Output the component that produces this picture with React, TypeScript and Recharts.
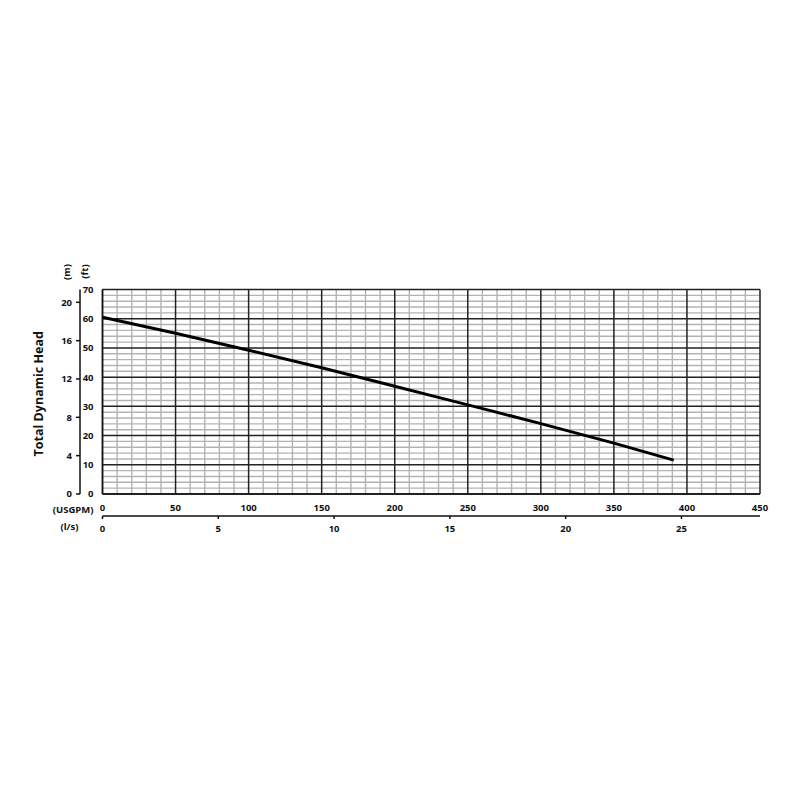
import { Line, LineChart, ReferenceLine, XAxis, YAxis } from "recharts";

// pump curve
const usgpm = [0, 50, 100, 150, 200, 250, 300, 350, 391];
const headFt = [60.5, 55, 49.2, 43.2, 36.9, 30.5, 24.1, 17.4, 11.6];

const gpmTicks = [0, 50, 100, 150, 200, 250, 300, 350, 400, 450];
const lpsTicks = [0, 5, 10, 15, 20, 25];
const ftTicks = [0, 10, 20, 30, 40, 50, 60, 70];
const mTicks = [0, 4, 8, 12, 16, 20];

const gpmMinor = [
  10, 20, 30, 40, 60, 70, 80, 90, 110, 120, 130, 140, 160, 170, 180, 190, 210,
  220, 230, 240, 260, 270, 280, 290, 310, 320, 330, 340, 360, 370, 380, 390,
  410, 420, 430, 440,
];
const ftMinor = [
  2, 4, 6, 8, 12, 14, 16, 18, 22, 24, 26, 28, 32, 34, 36, 38, 42, 44, 46, 48,
  52, 54, 56, 58, 62, 64, 66, 68,
];

const GPM_MAX = 450;
const FT_MAX = 70;
const LPS_PER_GPM = 0.06309;
const FT_PER_M = 3.2808;

const data = usgpm.map((g, i) => ({
  gpm: g,
  lps: g * LPS_PER_GPM,
  ft: headFt[i],
  m: headFt[i] / FT_PER_M,
}));

const font = "'Open Sans', sans-serif";
const tickStyle = { fontSize: 9.5, fontWeight: 700, fill: "#111", fontFamily: font };
const labelStyle = { fontSize: 9.5, fontWeight: 700, fill: "#111", fontFamily: font };

function vbOf(p: any) {
  return p && p.viewBox ? p.viewBox : { x: 0, y: 0, width: 0, height: 0 };
}

export default function App() {
  return (
    <div
      style={{
        position: "absolute",
        left: 0,
        top: 0,
        width: 800,
        height: 800,
        background: "#fff",
      }}
    >
      <LineChart
        width={800}
        height={800}
        data={data}
        margin={{ top: 289.5, right: 40, bottom: 258, left: 0 }}
      >
        <XAxis
          xAxisId="gpm"
          dataKey="gpm"
          type="number"
          domain={[0, GPM_MAX]}
          ticks={gpmTicks}
          allowDataOverflow
          height={22}
          tickSize={0}
          tickMargin={10}
          tickLine={false}
          axisLine={{ stroke: "#111", strokeWidth: 1.5 }}
          tick={tickStyle}
          label={(p: any) => {
            const vb = vbOf(p);
            return (
              <text x={vb.x - 9} y={vb.y + 15} textAnchor="end" dominantBaseline="central" style={labelStyle}>
                (USGPM)
              </text>
            );
          }}
        />
        <XAxis
          xAxisId="lps"
          dataKey="lps"
          type="number"
          domain={[0, GPM_MAX * LPS_PER_GPM]}
          ticks={lpsTicks}
          allowDataOverflow
          height={26}
          tickSize={3}
          tickMargin={6}
          tickLine={{ stroke: "#111", strokeWidth: 1.5 }}
          axisLine={{ stroke: "#111", strokeWidth: 1.5 }}
          tick={tickStyle}
          label={(p: any) => {
            const vb = vbOf(p);
            return (
              <text x={vb.x - 33} y={vb.y + 10} textAnchor="middle" dominantBaseline="central" style={labelStyle}>
                (l/s)
              </text>
            );
          }}
        />
        <YAxis
          yAxisId="ft"
          dataKey="ft"
          type="number"
          domain={[0, FT_MAX]}
          ticks={ftTicks}
          allowDataOverflow
          width={22.5}
          tickSize={0}
          tickMargin={9}
          tickLine={false}
          axisLine={{ stroke: "#111", strokeWidth: 1.5 }}
          tick={tickStyle}
          label={(p: any) => {
            const vb = vbOf(p);
            const x = vb.x + 4;
            const y = vb.y - 18;
            return (
              <text x={x} y={y} textAnchor="middle" dominantBaseline="central" transform={`rotate(-90 ${x} ${y})`} style={labelStyle}>
                (ft)
              </text>
            );
          }}
        />
        <YAxis
          yAxisId="m"
          dataKey="m"
          type="number"
          domain={[0, FT_MAX / FT_PER_M]}
          ticks={mTicks}
          allowDataOverflow
          width={40}
          tickSize={4}
          tickMargin={4}
          tickLine={{ stroke: "#111", strokeWidth: 1.5 }}
          axisLine={{ stroke: "#111", strokeWidth: 1.5 }}
          tick={tickStyle}
          label={(p: any) => {
            const vb = vbOf(p);
            const x = vb.x + vb.width - 13.5;
            const y = vb.y - 17.5;
            return (
              <text x={x} y={y} textAnchor="middle" dominantBaseline="central" transform={`rotate(-90 ${x} ${y})`} style={labelStyle}>
                (m)
              </text>
            );
          }}
        />
        <YAxis
          yAxisId="title"
          dataKey="ft"
          type="number"
          domain={[0, FT_MAX]}
          width={40}
          tick={false}
          tickLine={false}
          axisLine={false}
          label={(p: any) => {
            const vb = vbOf(p);
            const x = vb.x + vb.width - 2;
            const y = vb.y + vb.height / 2 + 2;
            return (
              <text
                x={x}
                y={y}
                textAnchor="middle"
                dominantBaseline="central"
                transform={`rotate(-90 ${x} ${y})`}
                style={{ fontSize: 12.5, fontWeight: 700, fill: "#111", fontFamily: font }}
              >
                Total Dynamic Head
              </text>
            );
          }}
        />

        {gpmMinor.map((v) => (
          <ReferenceLine key={`vx${v}`} x={v} xAxisId="gpm" yAxisId="ft" stroke="#b3b3b3" strokeWidth={1.4} />
        ))}
        {ftMinor.map((v) => (
          <ReferenceLine key={`hy${v}`} y={v} xAxisId="gpm" yAxisId="ft" stroke="#b3b3b3" strokeWidth={1.4} />
        ))}
        {gpmTicks.map((v) => (
          <ReferenceLine key={`VX${v}`} x={v} xAxisId="gpm" yAxisId="ft" stroke="#222" strokeWidth={1.5} />
        ))}
        {ftTicks.map((v) => (
          <ReferenceLine key={`HY${v}`} y={v} xAxisId="gpm" yAxisId="ft" stroke="#222" strokeWidth={1.5} />
        ))}

        <Line
          xAxisId="gpm"
          yAxisId="ft"
          dataKey="ft"
          type="monotone"
          stroke="#000"
          strokeWidth={3}
          dot={false}
          isAnimationActive={false}
        />
      </LineChart>
    </div>
  );
}
